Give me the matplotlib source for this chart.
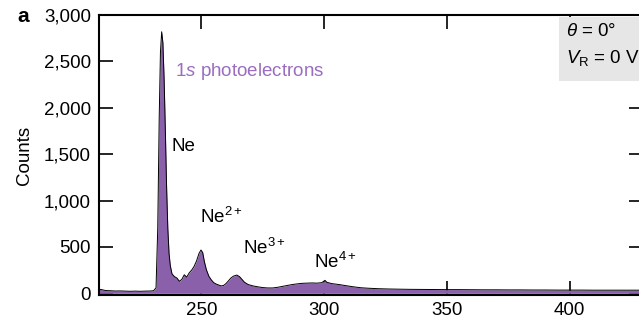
import matplotlib.pyplot as plt

plt.rcParams['font.family'] = ['Liberation Sans', 'DejaVu Sans']
plt.rcParams['mathtext.fontset'] = 'custom'
plt.rcParams['mathtext.rm'] = 'Liberation Sans'
plt.rcParams['mathtext.it'] = 'Liberation Sans:italic'
plt.rcParams['mathtext.bf'] = 'Liberation Sans:bold'

# photoelectron energy (eV) and counts
energy = [207, 209, 211, 213, 215, 217, 219, 221, 223, 225, 227, 229, 230.5, 231.5,
          232.2, 232.8, 233.3, 233.8, 234.3, 234.8, 235.3, 235.8, 236.3, 236.8,
          237.3, 238, 239, 240, 241, 242, 243, 244, 245, 246, 247, 248, 249, 249.8,
          250.5, 251.2, 252, 253, 254, 255, 256, 257, 258, 259, 260, 261, 262, 263,
          264.4, 265.5, 266.5, 267.5, 269, 271, 273, 275, 277, 279, 281, 283, 285,
          287, 289, 291, 293, 295, 297, 299, 300.3, 301, 303, 306, 309, 312, 315,
          318, 322, 326, 330, 335, 340, 345, 350, 355, 360, 365, 370, 375, 380,
          385, 390, 395, 400, 405, 410, 415, 420, 425, 430]
counts = [40, 42, 30, 28, 25, 26, 24, 22, 24, 22, 24, 25, 28, 60,
          700, 1900, 2600, 2820, 2700, 2300, 1750, 1150, 700, 430,
          300, 210, 180, 165, 130, 150, 200, 175, 220, 250, 290, 350, 430, 467,
          440, 340, 255, 185, 145, 115, 100, 90, 80, 85, 105, 135, 165, 185,
          197, 180, 150, 120, 95, 80, 70, 62, 58, 58, 65, 75, 85,
          95, 102, 108, 110, 112, 110, 115, 140, 120, 105, 95, 82, 70, 60,
          55, 50, 47, 45, 43, 42, 41, 40, 40, 39, 38, 38, 37, 37,
          36, 36, 35, 35, 35, 34, 34, 34, 34, 34]

peak_labels = ['Ne', 'Ne$^{2+}$', 'Ne$^{3+}$', 'Ne$^{4+}$']
peak_label_x = [238.0, 249.4, 267.1, 295.9]
peak_label_y = [1580, 825, 485, 340]

fill_color = '#8a60ab'
text_color = '#9a6dc0'

fig = plt.figure(figsize=(6.39, 3.24), dpi=100)
ax = fig.add_axes([0.1554, 0.0895, 1.007 - 0.1554, 0.864])

ax.fill_between(energy, 0, counts, color=fill_color, linewidth=0, zorder=2)
ax.plot(energy, counts, color='black', linewidth=0.7, zorder=3)

for lab, lx, ly in zip(peak_labels, peak_label_x, peak_label_y):
    ax.text(lx, ly, lab, fontsize=13.5, ha='left', va='center', zorder=4)

ax.text(239.2, 2388, r'1$\mathit{s}$ photoelectrons', fontsize=13.5,
        color=text_color, ha='left', va='center', zorder=4)

ax.set_xlim(208.4, 430)
ax.set_ylim(-18, 3000)
ax.set_xticks([250, 300, 350, 400])
ax.set_yticks([0, 500, 1000, 1500, 2000, 2500, 3000])
ax.set_yticklabels(['0', '500', '1,000', '1,500', '2,000', '2,500', '3,000'])
ax.tick_params(direction='in', length=10, width=1.2, labelsize=13.5,
               top=True, right=True, pad=5)
ax.tick_params(axis='y', pad=6)
for s in ax.spines.values():
    s.set_linewidth(1.5)

ax.set_ylabel('Counts', fontsize=13.5)
ax.yaxis.set_label_coords(-0.122, 0.5)

# condition box in the upper right corner (covers the inner ticks there)
box = plt.Rectangle((0.845, 0.764), 0.2, 0.228, transform=ax.transAxes,
                    facecolor='#e6e6e6', edgecolor='none', zorder=2.7)
ax.add_patch(box)
ax.text(0.857, 0.94, r'$\mathit{\theta}$ = 0°', transform=ax.transAxes,
        fontsize=13.5, ha='left', va='center', zorder=4)
ax.text(0.857, 0.845, r'$\mathit{V}_{\mathrm{R}}$ = 0 V', transform=ax.transAxes,
        fontsize=13.5, ha='left', va='center', zorder=4)

fig.text(0.027, 0.95, 'a', fontsize=15, fontweight='bold', ha='left', va='center')

fig.savefig('out.png', dpi=100)
